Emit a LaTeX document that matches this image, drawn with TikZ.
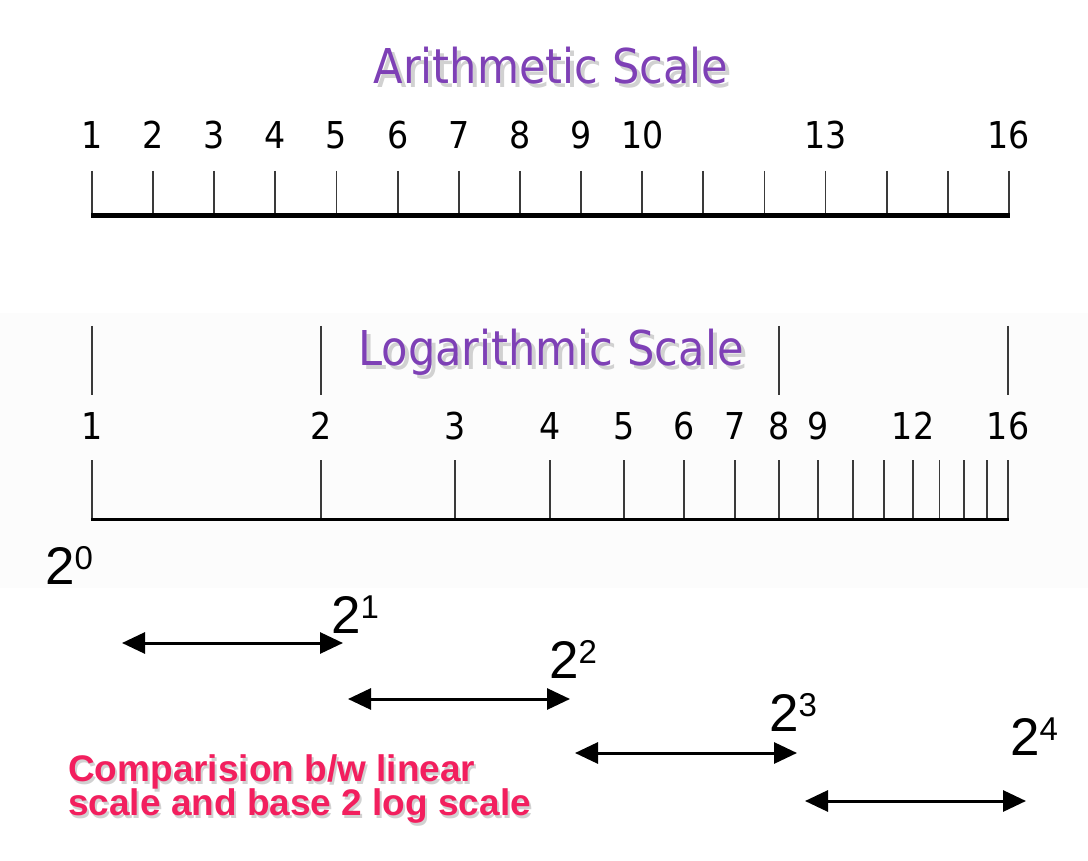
\documentclass[tikz,border=0pt]{standalone}
\usepackage{fontspec}
\usetikzlibrary{arrows.meta}
\setmainfont{Liberation Sans}
\newfontfamily\condfont{DejaVu Sans Condensed}
\definecolor{scalepurple}{HTML}{7E40B6}
\definecolor{notepink}{HTML}{F21F5E}
\definecolor{tickgray}{HTML}{3A3A3A}
\newcommand\powtwo[1]{2\raisebox{14.4pt}{\fontsize{33}{33}\selectfont #1}}
\newcommand\withshade[3]{\makebox[0pt][l]{\hspace*{#1}\raisebox{-#2}{\textcolor{black!18}{#3}}}#3}

\begin{document}
\begin{tikzpicture}[x=1pt,y=-1pt,
  scaletick/.style={draw=tickgray,line width=1.8pt},
  num/.style={font=\condfont\fontsize{37}{37}\selectfont,inner sep=0pt},
  title/.style={font=\condfont\fontsize{48}{48}\selectfont,text=scalepurple,inner sep=0pt,anchor=base},
  pow/.style={font=\fontsize{53}{53}\selectfont,inner sep=0pt,anchor=base west},
  note/.style={font=\bfseries\fontsize{37}{37}\selectfont,text=notepink,inner sep=0pt,anchor=base west},
  powarrow/.style={line width=3pt,{Triangle[length=23pt,width=21pt]}-{Triangle[length=23pt,width=21pt]}}]
  \useasboundingbox[fill=white] (0,0) rectangle (1088,861);
  \fill[black!1.2] (0,313) rectangle (1088,588);

  \node[title] (arith) at (551,84) {\withshade{4pt}{4pt}{Arithmetic Scale}};
  \foreach \n in {1,...,16}
    \draw[scaletick] ({92+61.13*(\n-1)},171) -- ++(0,45);
  \draw[line width=5pt] (91,216) -- (1010,216);
  \foreach \n in {1,...,10,13,16}
    \node[num] (a\n) at ({92+61.13*(\n-1)},135) {\n};

  \node[title] (loga) at (551,366) {\withshade{4pt}{4pt}{Logarithmic Scale}};
  \foreach \n in {1,2,8,16}
    \draw[scaletick] ({92+229*ln(\n)/ln(2)},326) -- ++(0,69);
  \foreach \n in {1,...,16}
    \draw[scaletick] ({92+229*ln(\n)/ln(2)},460) -- ++(0,59);
  \draw[line width=3pt] (91,519) -- (1009,519);
  \foreach \n in {1,...,9,12,16}
    \node[num] (l\n) at ({92+229*ln(\n)/ln(2)},426) {\n};

  \node[pow] (p0) at (45,584) {\powtwo{0}};
  \node[pow] (p1) at (331,633) {\powtwo{1}};
  \node[pow] (p2) at (549,678) {\powtwo{2}};
  \node[pow] (p3) at (769,731) {\powtwo{3}};
  \node[pow] (p4) at (1010,755) {\powtwo{4}};

  \coordinate (s1a) at (122,643); \coordinate (s1b) at (343,643);
  \coordinate (s2a) at (348,699); \coordinate (s2b) at (570,699);
  \coordinate (s3a) at (575,753); \coordinate (s3b) at (797,753);
  \coordinate (s4a) at (805,801); \coordinate (s4b) at (1026,801);
  \draw[powarrow] (s1a) -- (s1b);
  \draw[powarrow] (s2a) -- (s2b);
  \draw[powarrow] (s3a) -- (s3b);
  \draw[powarrow] (s4a) -- (s4b);

  \node[note] (note1) at (68,781) {\withshade{2pt}{3pt}{Comparision b/w linear}};
  \node[note] (note2) at (68,815) {\withshade{2pt}{3pt}{scale and base 2 log scale}};
\end{tikzpicture}
\end{document}
